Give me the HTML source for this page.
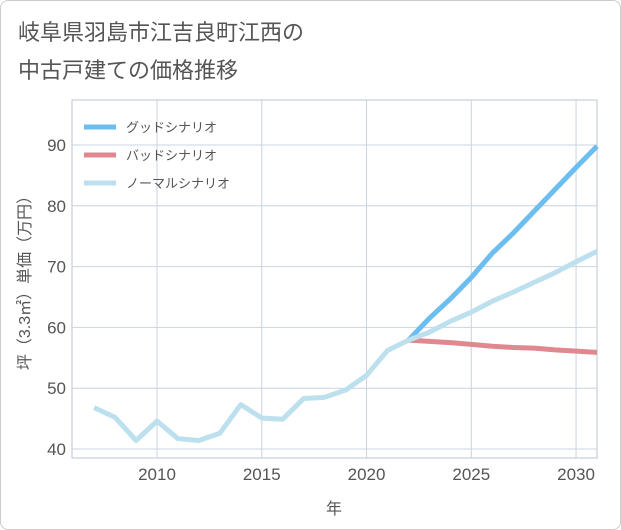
<!DOCTYPE html>
<html><head><meta charset="utf-8"><style>
body{margin:0;background:#fff;font-family:"Liberation Sans","Noto Sans CJK JP",sans-serif}
#card{position:absolute;left:0;top:0;width:619px;height:528px;border:1px solid #ccc;border-radius:8px}
#title{position:absolute;left:18px;top:14px;font-size:22px;line-height:38px;color:#555}
</style></head><body>
<div id="card"></div>
<div id="title">岐阜県羽島市江吉良町江西の<br>中古戸建ての価格推移</div>
<svg id="chart" width="621" height="530" style="position:absolute;left:0;top:0"></svg>
<script>
const years=[2007,2008,2009,2010,2011,2012,2013,2014,2015,2016,2017,2018,2019,2020,2021,2022];
const hist=[46.8,45.2,41.4,44.6,41.7,41.4,42.6,47.3,45.1,44.9,48.3,48.5,49.7,52.1,56.2,57.9];
const fYears=[2022,2023,2024,2025,2026,2027,2028,2029,2030,2031];
const good=[57.9,61.5,64.7,68.2,72.2,75.5,79.1,82.7,86.3,89.8];
const bad=[57.9,57.7,57.5,57.2,56.9,56.7,56.6,56.3,56.1,55.9];
const normal=[57.9,59.2,61.0,62.5,64.3,65.8,67.4,69.0,70.8,72.5];
const xTicks=[2010,2015,2020,2025,2030];
const yTicks=[40,50,60,70,80,90];
const L=72,R=597,T=100,B=458;
const x=v=>157+(v-2010)*(R-157)/(2031-2010);
const y=v=>449-(v-40)*(449-145)/50;
const svg=document.getElementById('chart');const NS='http://www.w3.org/2000/svg';
function mk(t,a,p){const e=document.createElementNS(NS,t);for(const k in a)e.setAttribute(k,a[k]);(p||svg).appendChild(e);return e;}
let e;
e=mk('rect',{x:L,y:T,width:R-L,height:B-T,fill:'none',stroke:'#b8c4d0'});


yTicks.forEach(v=>{
 e=mk('line',{x1:L,x2:R,y1:y(v),y2:y(v),stroke:'#c8d4e0'});
 
 
 e=mk('text',{x:L-6,y:y(v)+6,'text-anchor':'end','font-size':17,fill:'#555'});e.textContent=v;
 
 
});
xTicks.forEach(v=>{
 e=mk('line',{x1:x(v),x2:x(v),y1:T,y2:B,stroke:'#c8d4e0'});
 
 
 e=mk('text',{x:x(v),y:B+22,'text-anchor':'middle','font-size':17,fill:'#555'});e.textContent=v;
 
 
});
e=mk('text',{x:334,y:514,'text-anchor':'middle','font-size':16,fill:'#555'});e.textContent='年';


e=mk('text',{x:0,y:0,'text-anchor':'middle','font-size':16,fill:'#555',transform:'translate(30,279) rotate(-90)'});e.textContent='坪（3.3㎡）単価（万円）';


function line(xs,vs,c,n){const d=xs.map((v,i)=>(i?'L':'M')+x(v)+','+y(vs[i])).join('');
 const p=mk('path',{d:d,fill:'none',stroke:c,'stroke-width':5,'stroke-linejoin':'round'});
 
 }
line(fYears,bad,'#e08890','bad-scenario-line');
line(fYears,good,'#6cbdf0','good-scenario-line');
line(fYears,normal,'#bde0ee','normal-scenario-line');
line(years,hist,'#bde0ee','historical-line');
const leg=[['グッドシナリオ','#6cbdf0'],['バッドシナリオ','#e08890'],['ノーマルシナリオ','#bde0ee']];
leg.forEach((l,i)=>{const yy=127+i*28;
 e=mk('line',{x1:84,x2:116,y1:yy,y2:yy,stroke:l[1],'stroke-width':5});
 
 
 e=mk('text',{x:126,y:yy+5,'font-size':13,fill:'#555'});e.textContent=l[0];
 
 
});
</script>
</body></html>
